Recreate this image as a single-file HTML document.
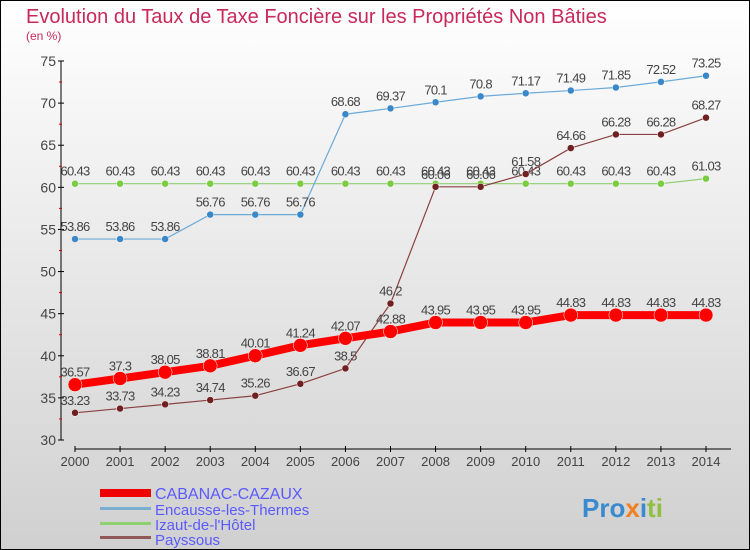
<!DOCTYPE html>
<html><head><meta charset="utf-8"><style>
html,body{margin:0;padding:0}
body{width:750px;height:550px;overflow:hidden;font-family:"Liberation Sans",sans-serif}
svg{display:block}
text{font-family:"Liberation Sans",sans-serif}
</style></head><body>
<svg id="chart" width="750" height="550" xmlns="http://www.w3.org/2000/svg">
<defs><linearGradient id="bg" x1="0" y1="0" x2="0" y2="1"><stop offset="0" stop-color="#ffffff"/><stop offset="1" stop-color="#d0d0d0"/></linearGradient></defs>
<rect x="0.5" y="0.5" width="749" height="549" fill="url(#bg)" stroke="#000"/>
<text x="26" y="23" font-size="20" fill="#c8285a">Evolution du Taux de Taxe Foncière sur les Propriétés Non Bâties</text>
<text x="26" y="40" font-size="12" fill="#c8285a">(en %)</text>
<g id="axes"></g><g id="series"></g>
<g>
<rect x="100" y="489" width="51" height="8" fill="#e00"/>
<text x="155" y="499" font-size="16" fill="#5a5aff">CABANAC-CAZAUX</text>
<rect x="100" y="507" width="51" height="3" fill="#7aaed0"/>
<text x="155" y="515" font-size="15" fill="#5a5aff">Encausse-les-Thermes</text>
<rect x="100" y="522" width="51" height="3" fill="#8fd070"/>
<text x="155" y="530" font-size="15" fill="#5a5aff">Izaut-de-l'Hôtel</text>
<rect x="100" y="536" width="51" height="3" fill="#905858"/>
<text x="155" y="545" font-size="15" fill="#5a5aff">Payssous</text>
</g>
<text x="582" y="517" font-size="26" font-weight="bold"><tspan fill="#3a8ad0">Pro</tspan><tspan fill="#f08020">x</tspan><tspan fill="#3a8ad0">i</tspan><tspan fill="#90c040">ti</tspan></text>
</svg>
<script>
const years=[2000,2001,2002,2003,2004,2005,2006,2007,2008,2009,2010,2011,2012,2013,2014];
const yTicks=[30,35,40,45,50,55,60,65,70,75];
const cabanac=[36.57,37.3,38.05,38.81,40.01,41.24,42.07,42.88,43.95,43.95,43.95,44.83,44.83,44.83,44.83];
const encausse=[53.86,53.86,53.86,56.76,56.76,56.76,68.68,69.37,70.1,70.8,71.17,71.49,71.85,72.52,73.25];
const izaut=[60.43,60.43,60.43,60.43,60.43,60.43,60.43,60.43,60.43,60.43,60.43,60.43,60.43,60.43,61.03];
const payssous=[33.23,33.73,34.23,34.74,35.26,36.67,38.5,46.2,60.06,60.06,61.58,64.66,66.28,66.28,68.27];
const NS='http://www.w3.org/2000/svg';
const xs=i=>75+i*(631/14);
const ys=v=>440-(v-30)*(379/45);
function mk(p,t,a){const e=document.createElementNS(NS,t);for(const k in a)e.setAttribute(k,a[k]);p.appendChild(e);return e;}
const ax=document.getElementById('axes');
let l=mk(ax,'line',{x1:61,y1:61,x2:61,y2:440,stroke:'#000'});

l=mk(ax,'line',{x1:75,y1:449,x2:731,y2:449,stroke:'#000'});

yTicks.forEach((v,i)=>{mk(ax,'line',{x1:58,x2:64,y1:ys(v),y2:ys(v),stroke:'#000'});
 if(i<yTicks.length-1)mk(ax,'line',{x1:59,x2:62,y1:ys(v+2.5),y2:ys(v+2.5),stroke:'#d00'});
 const t=mk(ax,'text',{x:56,y:ys(v)+5,'text-anchor':'end','font-size':14,fill:'#444'});t.textContent=v;
 });
years.forEach((y,i)=>{mk(ax,'line',{x1:xs(i),x2:xs(i),y1:446,y2:452,stroke:'#000'});
 const t=mk(ax,'text',{x:xs(i),y:466,'text-anchor':'middle','font-size':13,fill:'#444'});t.textContent=y;
 });
const sg=document.getElementById('series');
function draw(name,data,color,w,r,dot){
 const g=mk(sg,'g',{});
 const pl=mk(g,'polyline',{points:data.map((v,i)=>xs(i)+','+ys(v)).join(' '),fill:'none',stroke:color,'stroke-width':w});
 
 data.forEach((v,i)=>{const c=mk(g,'circle',{cx:xs(i),cy:ys(v),r:r,fill:dot,stroke:'#fff','stroke-width':0.5});
  
  const t=mk(g,'text',{x:xs(i),y:ys(v)-8,'text-anchor':'middle','font-size':13,fill:'#444','letter-spacing':'-0.7'});t.textContent=v;
  });
}
draw('izaut',izaut,'#8fd070',1.2,3.5,'#7acc40');
draw('encausse',encausse,'#6aaad8',1.2,3.5,'#3a88c8');
draw('payssous',payssous,'#8a4040',1.2,3.5,'#702020');
draw('cabanac',cabanac,'#f00',8,7,'#f00');
</script>
</body></html>
